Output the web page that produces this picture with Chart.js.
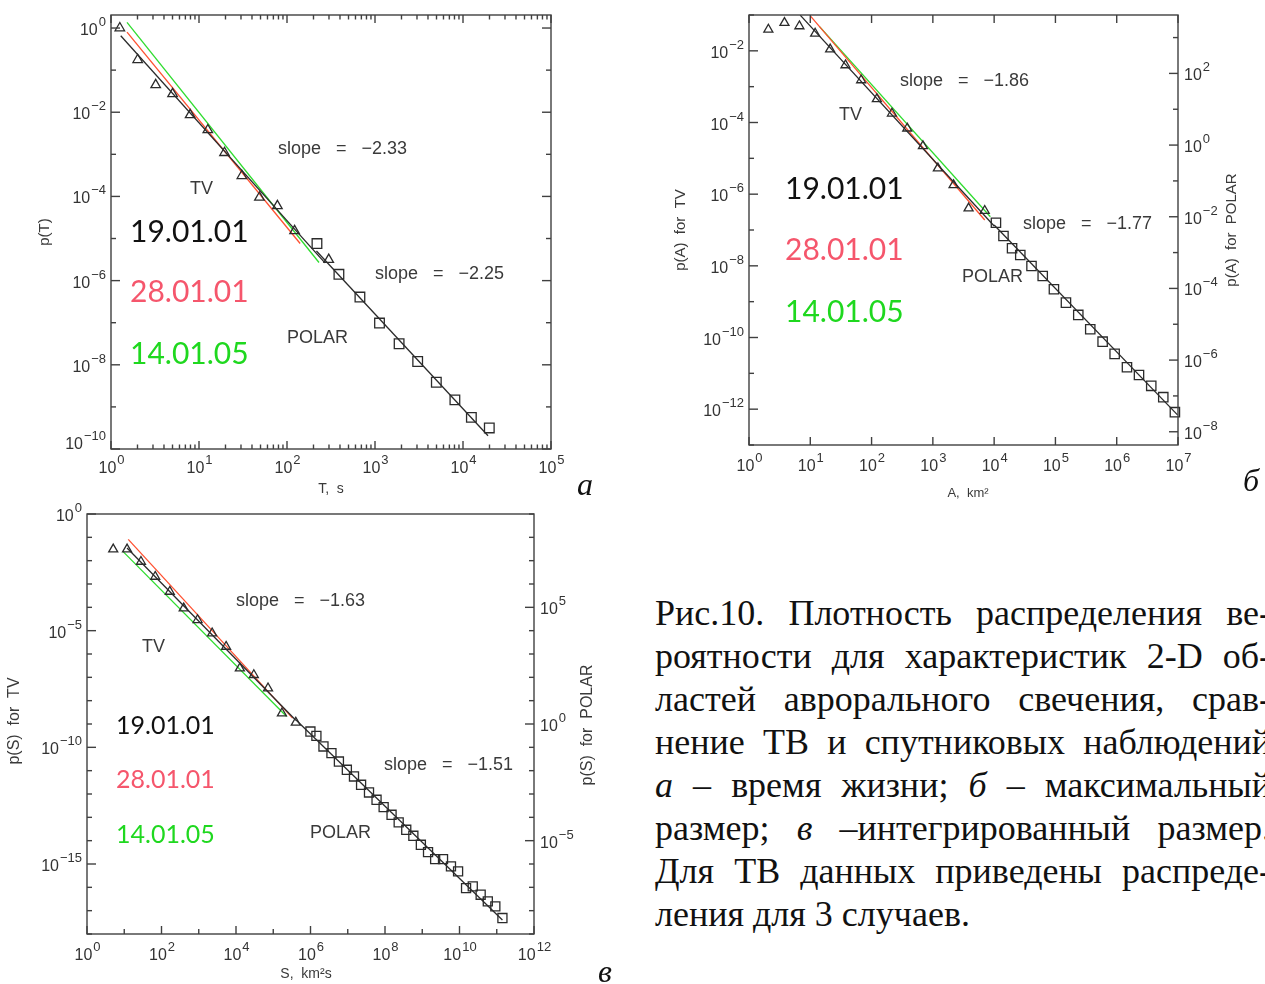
<!DOCTYPE html>
<html lang="ru">
<head>
<meta charset="utf-8">
<title>Рис.10</title>
<script src="https://cdn.jsdelivr.net/npm/chart.js@4.4.1/dist/chart.umd.min.js"></script>
<style>
  html, body { margin: 0; padding: 0; background: #fff; }
  body { width: 1265px; height: 984px; position: relative; overflow: hidden; }
  canvas { position: absolute; }
  #chartA { left: 0; top: 0; }
  #chartB { left: 640px; top: 0; }
  #chartC { left: 0; top: 500px; }
  .tag { position: absolute; font-family: "Liberation Serif", serif; font-style: italic; font-size: 32px; line-height: 32px; color: #111; }
  .caption { position: absolute; left: 655px; top: 592px; width: 616px;
             font-family: "Liberation Serif", serif; font-size: 36px; line-height: 43px; color: #111; }
  .caption div { text-align: justify; text-align-last: justify; white-space: nowrap; }
  .caption div.last { text-align-last: left; }
</style>
</head>
<body>
<canvas id="chartA" width="620" height="500"></canvas>
<canvas id="chartB" width="625" height="500"></canvas>
<canvas id="chartC" width="640" height="484"></canvas>

<div class="tag" style="left:577px; top:468px;">а</div>
<div class="tag" style="left:1243px; top:464px;">б</div>
<div class="tag" style="left:598px; top:955px;">в</div>

<div class="caption">
  <div>Рис.10. Плотность распределения ве-</div>
  <div>роятности для характеристик 2-D об-</div>
  <div>ластей аврорального свечения, срав-</div>
  <div>нение ТВ и спутниковых наблюдений</div>
  <div><i>а</i> – время жизни; <i>б</i> – максимальный</div>
  <div>размер; <i>в</i> –интегрированный размер.</div>
  <div>Для ТВ данных приведены распреде-</div>
  <div class="last">ления для 3 случаев.</div>
</div>

<script>
// (а) lifetime T, s
const tvT     = [1.26, 2.01, 3.22, 5.01, 7.93, 12.6, 19.5, 30.7, 48.6, 77.8, 122, 298];
const tvPT    = [1.0, 0.176, 0.0447, 0.0273, 0.00863, 0.00379, 0.00109, 3.09e-4, 9.46e-5, 5.97e-5, 1.52e-5, 3.16e-6];
const polarT  = [219, 389, 674, 1125, 1879, 3055, 4977, 8090, 12450, 19900];
const polarPT = [7.6e-6, 1.41e-6, 4.07e-7, 9.8e-8, 3.16e-8, 1.2e-8, 3.85e-9, 1.47e-9, 5.65e-10, 3.16e-10];
const fitT190101x = [1.29, 270],  fitT190101y = [0.656, 2.63e-6];
const fitT280101x = [1.52, 141],  fitT280101y = [0.80, 7.6e-6];
const fitT140105x = [1.52, 231],  fitT140105y = [1.36, 2.69e-6];
const fitTpolarX  = [216, 19250], fitTpolarY  = [5.07e-6, 2.07e-10];

// (б) maximal size A, km²  (POLAR values on the right axis)
const tvA     = [2.07, 3.79, 6.64, 12.0, 21.1, 37.5, 67.6, 122, 215, 382, 689, 1208, 2178, 3830, 7020];
const tvPA    = [0.0395, 0.0604, 0.0489, 0.0305, 0.011, 0.00399, 0.00152, 4.5e-4, 1.79e-4, 6.85e-5, 2.2e-5, 5.25e-6, 1.8e-6, 4.03e-7, 3.45e-7];
const polarA  = [10700, 14200, 19600, 26700, 40700, 62000, 94500, 148500, 236000, 370000, 589000, 925000, 1.47e6, 2.31e6, 3.66e6, 5.75e6, 8.9e6];
const polarPA = [6.82e-3, 2.9e-3, 1.32e-3, 8.57e-4, 4.23e-4, 2.22e-4, 9.46e-5, 4.01e-5, 1.82e-5, 7.26e-6, 3.27e-6, 1.49e-6, 6.32e-7, 3.85e-7, 1.91e-7, 9.23e-8, 3.52e-8];
const fitA190101x = [6.84, 10000], fitA190101y = [0.099, 1.29e-7];
const fitA280101x = [10.1, 7020],  fitA280101y = [0.0929, 1.9e-7];
const fitA140105x = [14.3, 8670],  fitA140105y = [0.0467, 2.34e-7];
const fitApolarX  = [10000, 9.82e6], fitApolarY = [5.89e-3, 2.95e-8];

// (в) integrated size S, km²s  (POLAR values on the right axis)
const tvS     = [5.06, 11.9, 28.1, 67.8, 167, 395, 929, 2290, 5420, 12700, 30100, 72400, 171000, 403000];
const tvPS    = [0.0308, 0.0308, 9.06e-3, 2.07e-3, 4.71e-4, 9.12e-5, 2.88e-5, 7.76e-6, 2.07e-6, 2.45e-7, 1.27e-7, 3.42e-8, 2.9e-9, 1.16e-9];
const polarS  = [9.95e5, 1.44e6, 2.23e6, 3.65e6, 5.79e6, 9.46e6, 1.47e7, 2.28e7, 3.72e7, 5.93e7, 9.2e7, 1.5e8, 2.33e8,
                 3.72e8, 5.77e8, 9.18e8, 1.43e9, 2.22e9, 3.61e9, 5.9e9, 9.16e9, 1.5e10, 2.27e10, 3.7e10, 5.75e10, 9.16e10, 1.42e11];
const polarPS = [0.476, 0.31, 0.109, 0.0562, 0.0247, 0.0109, 5.64e-3, 2.48e-3, 1.16e-3, 5.65e-4, 2.74e-4, 1.29e-4, 6.04e-5,
                 2.93e-5, 1.62e-5, 6.67e-6, 3.24e-6, 1.62e-6, 1.62e-6, 7.87e-7, 4.81e-7, 9.31e-8, 1.1e-7, 4.82e-8, 2.49e-8, 1.52e-8, 4.83e-9];
const fitS190101x = [11.9, 403000], fitS190101y = [0.035, 1.45e-9];
const fitS280101x = [12.8, 330000], fitS280101y = [0.0822, 1.78e-9];
const fitS140105x = [9.33, 229000], fitS140105y = [0.0244, 2.09e-9];
const fitSpolarX  = [403000, 1.42e11], fitSpolarY = [1.51, 3.98e-9];

const INK = '#2b2b2b';
const RED_TXT = '#f5566c', GREEN_TXT = '#1fd81f';
const RED_LINE = '#ff5030', GREEN_LINE = '#2edc2e';

const pts = (xs, ys) => xs.map((x, i) => ({ x, y: ys[i] }));

function markers(xs, ys, style, r, axis) {
  return { data: pts(xs, ys), pointStyle: style, pointRadius: r, pointBorderWidth: 1.3,
           borderColor: INK, backgroundColor: 'rgba(0,0,0,0)', yAxisID: axis || 'y', clip: false, order: 1 };
}
function fit(xs, ys, color, axis) {
  return { data: pts(xs, ys), showLine: true, pointRadius: 0, borderWidth: 1.3,
           borderColor: color, yAxisID: axis || 'y', order: 2 };
}

// decade ticks; labelled ones are longer
function logTicks(lo, hi, every, big, small, minors) {
  const out = [];
  for (let e = lo; e <= hi; e++) {
    const lab = e % every === 0;
    out.push({ v: Math.pow(10, e), e, len: lab ? big : small, label: lab });
    if (minors && e < hi) {
      for (let m = 2; m <= 9; m++) out.push({ v: m * Math.pow(10, e), len: small });
    }
  }
  return out;
}

// "10" with a raised exponent
function power(ctx, e, x, y, align, f) {
  const sup = e < 0 ? '−' + (-e) : String(e);
  ctx.font = f.base + 'px "Liberation Sans"';
  const wb = ctx.measureText('10').width;
  ctx.font = f.sup + 'px "Liberation Sans"';
  const ws = ctx.measureText(sup).width;
  const x0 = align === 'center' ? x - (wb + ws) / 2 : align === 'right' ? x - wb - ws - 1 : x;
  ctx.font = f.base + 'px "Liberation Sans"';
  ctx.fillText('10', x0, y);
  ctx.font = f.sup + 'px "Liberation Sans"';
  ctx.fillText(sup, x0 + wb + 1, y - f.raise);
}

const axisFrame = {
  id: 'axisFrame',
  afterDatasetsDraw(chart, args, o) {
    const { ctx, chartArea: a, scales } = chart;
    const seg = (x1, y1, x2, y2) => { ctx.beginPath(); ctx.moveTo(x1, y1); ctx.lineTo(x2, y2); ctx.stroke(); };
    ctx.save();
    ctx.strokeStyle = '#404040';
    ctx.fillStyle = '#333';
    ctx.lineWidth = 1.4;
    ctx.textBaseline = 'alphabetic';
    ctx.textAlign = 'left';
    ctx.strokeRect(a.left, a.top, a.right - a.left, a.bottom - a.top);

    o.xTicks.forEach(t => {
      const px = scales.x.getPixelForValue(t.v);
      seg(px, a.bottom, px, a.bottom - t.len);
      if (o.xTop) seg(px, a.top, px, a.top + t.len);
      if (t.label) power(ctx, t.e, px, a.bottom + o.xGap, 'center', o.font);
    });
    o.yTicks.forEach(t => {
      const py = scales.y.getPixelForValue(t.v);
      seg(a.left, py, a.left + t.len, py);
      if (o.yRight) seg(a.right, py, a.right - t.len, py);
      if (t.label) power(ctx, t.e, a.left - 5, py > a.bottom - 2 ? py : py + 7, 'right', o.font);
    });
    (o.y2Ticks || []).forEach(t => {
      const py = scales.y2.getPixelForValue(t.v);
      seg(a.right, py, a.right - t.len, py);
      if (t.label) power(ctx, t.e, a.right + 6, py + 7, 'left', o.font);
    });

    ctx.textBaseline = 'middle';
    o.notes.forEach(n => {
      ctx.save();
      ctx.fillStyle = n.c || '#3a3a3a';
      ctx.font = n.s + 'px ' + (n.f || '"Liberation Sans"');
      ctx.textAlign = n.align || 'left';
      ctx.translate(n.x, n.y);
      if (n.rot) ctx.rotate(-Math.PI / 2);
      ctx.fillText(n.t, 0, 0);
      ctx.restore();
    });
    ctx.restore();
  }
};

function logAxis(min, max) {
  return { type: 'logarithmic', min, max, display: false, bounds: 'data' };
}

function makeChart(id, padding, scales, datasets, frame) {
  return new Chart(document.getElementById(id), {
    type: 'scatter',
    data: { datasets },
    options: {
      responsive: false,
      animation: false,
      layout: { padding },
      scales,
      plugins: { legend: { display: false }, tooltip: { enabled: false }, axisFrame: frame }
    },
    plugins: [axisFrame]
  });
}

// а
makeChart('chartA',
  { left: 111, top: 15, right: 69, bottom: 51 },
  { x: logAxis(1, 1e5), y: logAxis(1e-10, 2.04) },
  [
    fit(fitT190101x, fitT190101y, INK),
    fit(fitT280101x, fitT280101y, RED_LINE),
    fit(fitT140105x, fitT140105y, GREEN_LINE),
    fit(fitTpolarX, fitTpolarY, INK),
    markers(tvT, tvPT, 'triangle', 5.5),
    markers(polarT, polarPT, 'rect', 6.8)
  ],
  {
    xTicks: logTicks(0, 5, 1, 8, 4.5, true), xTop: true, xGap: 24,
    yTicks: logTicks(-10, 0, 2, 9, 5, false), yRight: true,
    font: { base: 16, sup: 13, raise: 9 },
    notes: [
      { t: 'slope   =   −2.33', x: 278, y: 149, s: 18 },
      { t: 'TV', x: 190, y: 189, s: 18 },
      { t: '19.01.01', x: 130, y: 232, s: 30, f: 'Lato', c: '#111' },
      { t: '28.01.01', x: 130, y: 292, s: 30, f: 'Lato', c: RED_TXT },
      { t: '14.01.05', x: 130, y: 354, s: 30, f: 'Lato', c: GREEN_TXT },
      { t: 'slope   =   −2.25', x: 375, y: 274, s: 18 },
      { t: 'POLAR', x: 287, y: 338, s: 18 },
      { t: 'p(T)', x: 45, y: 232, s: 15, rot: true, align: 'center' },
      { t: 'T,  s', x: 331, y: 489, s: 14, align: 'center' }
    ]
  });

// б
makeChart('chartB',
  { left: 109, top: 15, right: 87, bottom: 55 },
  { x: logAxis(1, 1e7), y: logAxis(1e-13, 1e-1), y2: logAxis(4.27e-9, 4266) },
  [
    fit(fitA190101x, fitA190101y, INK),
    fit(fitA280101x, fitA280101y, RED_LINE),
    fit(fitA140105x, fitA140105y, GREEN_LINE),
    fit(fitApolarX, fitApolarY, INK, 'y2'),
    markers(tvA, tvPA, 'triangle', 5.2),
    markers(polarA, polarPA, 'rect', 6.6, 'y2')
  ],
  {
    xTicks: logTicks(0, 7, 1, 8, 8, false), xTop: true, xGap: 26,
    yTicks: logTicks(-13, -1, 2, 9, 5, false), yRight: false,
    y2Ticks: logTicks(-8, 3, 2, 9, 5, false),
    font: { base: 16, sup: 13, raise: 9 },
    notes: [
      { t: 'slope   =   −1.86', x: 260, y: 81, s: 18 },
      { t: 'TV', x: 199, y: 115, s: 18 },
      { t: '19.01.01', x: 145, y: 189, s: 30, f: 'Lato', c: '#111' },
      { t: '28.01.01', x: 145, y: 250, s: 30, f: 'Lato', c: RED_TXT },
      { t: '14.01.05', x: 145, y: 312, s: 30, f: 'Lato', c: GREEN_TXT },
      { t: 'slope   =   −1.77', x: 383, y: 224, s: 18 },
      { t: 'POLAR', x: 322, y: 277, s: 18 },
      { t: 'p(A)  for  TV', x: 41, y: 230, s: 15, rot: true, align: 'center' },
      { t: 'p(A)  for  POLAR', x: 592, y: 230, s: 15, rot: true, align: 'center' },
      { t: 'A,  km²', x: 328, y: 493, s: 13, align: 'center' }
    ]
  });

// в
makeChart('chartC',
  { left: 87, top: 14, right: 106, bottom: 50 },
  { x: logAxis(1, 1e12), y: logAxis(1e-18, 1), y2: logAxis(1e-9, 1e9) },
  [
    fit(fitS190101x, fitS190101y, INK),
    fit(fitS280101x, fitS280101y, RED_LINE),
    fit(fitS140105x, fitS140105y, GREEN_LINE),
    fit(fitSpolarX, fitSpolarY, INK, 'y2'),
    markers(tvS, tvPS, 'triangle', 5.2),
    markers(polarS, polarPS, 'rect', 6.4, 'y2')
  ],
  {
    xTicks: logTicks(0, 12, 2, 8, 5, false), xTop: false, xGap: 26,
    yTicks: logTicks(-18, 0, 5, 9, 5, false), yRight: false,
    y2Ticks: logTicks(-9, 9, 5, 9, 5, false),
    font: { base: 16, sup: 13, raise: 9 },
    notes: [
      { t: 'slope   =   −1.63', x: 236, y: 101, s: 18 },
      { t: 'TV', x: 142, y: 147, s: 18 },
      { t: '19.01.01', x: 116, y: 226, s: 25, f: 'Lato', c: '#111' },
      { t: '28.01.01', x: 116, y: 280, s: 25, f: 'Lato', c: RED_TXT },
      { t: '14.01.05', x: 116, y: 335, s: 25, f: 'Lato', c: GREEN_TXT },
      { t: 'slope   =   −1.51', x: 384, y: 265, s: 18 },
      { t: 'POLAR', x: 310, y: 333, s: 18 },
      { t: 'p(S)  for  TV', x: 15, y: 221, s: 16, rot: true, align: 'center' },
      { t: 'p(S)  for  POLAR', x: 588, y: 225, s: 16, rot: true, align: 'center' },
      { t: 'S,  km²s', x: 306, y: 474, s: 14, align: 'center' }
    ]
  });
</script>
</body>
</html>
